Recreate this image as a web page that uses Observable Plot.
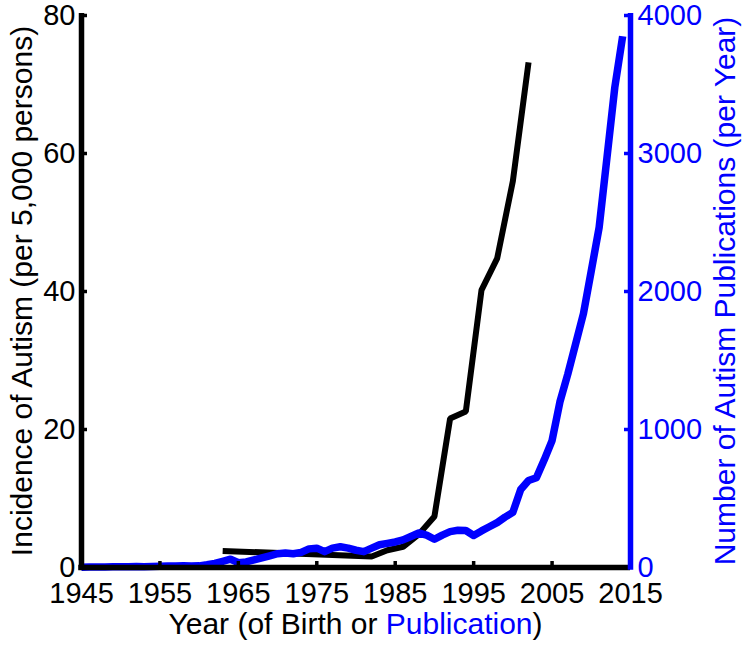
<!DOCTYPE html>
<html><head><meta charset="utf-8">
<script src="https://cdn.jsdelivr.net/npm/d3@7"></script>
<script src="https://cdn.jsdelivr.net/npm/@observablehq/plot@0.6"></script>
<style>html,body{margin:0;padding:0;background:#fff} svg{display:block}</style>
</head><body><div id="chart"></div>
<script>
// Incidence of autism (per 5,000 persons), by year of birth
const birthYears = [1963, 1982, 1984, 1986, 1988, 1990, 1992, 1994, 1996, 1998, 2000, 2002];
const incidence  = [2.4, 1.6, 2.5, 3.0, 4.8, 7.4, 21.6, 22.6, 40.2, 44.8, 56.0, 73.2];

// Number of autism publications per year
const pubYears = [1945,1946,1947,1948,1949,1950,1951,1952,1953,1954,1955,1956,1957,1958,1959,
  1960,1961,1962,1963,1964,1965,1966,1967,1968,1969,1970,1971,1972,1973,1974,1975,1976,1977,1978,1979,
  1980,1981,1982,1983,1984,1985,1986,1987,1988,1989,1990,1991,1992,1993,1994,1995,1996,1997,1998,1999,
  2000,2001,2002,2003,2004,2005,2006,2007,2008,2009,2010,2011,2012,2013,2014];
const publications = [2,3,3,4,5,5,6,7,6,8,9,10,10,12,10,
  12,20,30,45,60,35,40,55,70,85,100,105,100,110,135,140,115,140,150,140,
  125,115,140,165,175,185,200,225,250,235,205,235,260,270,268,232,265,295,325,365,
  400,565,630,650,780,920,1200,1400,1620,1840,2150,2464,2970,3480,3850];

const xTicks = [1945, 1955, 1965, 1975, 1985, 1995, 2005, 2015];
const leftTicks = [0, 20, 40, 60, 80];
const rightTicks = [0, 1000, 2000, 3000, 4000];

const xLabelParts = [["Year (of Birth or ", "black"], ["Publication", "#0000ff"], [")", "black"]];
const leftLabel = "Incidence of Autism (per 5,000 persons)";
const rightLabel = "Number of Autism Publications (per Year)";

const BLUE = "#0000ff";
const ratio = rightTicks[rightTicks.length - 1] / leftTicks[leftTicks.length - 1];
const incData = birthYears.map((year, i) => ({year, value: incidence[i]}));
const pubData = pubYears.map((year, i) => ({year, value: publications[i]}));

const W = 747, H = 650, mT = 15, mR = 117, mB = 83, mL = 81;
const pw = W - mL - mR, ph = H - mT - mB;
const TICKFS = 29, TITLEFS = 30;

const svg = Plot.plot({
  width: W, height: H,
  marginTop: mT, marginRight: mR, marginBottom: mB, marginLeft: mL,
  style: {fontFamily: "'Liberation Sans', Arial, sans-serif", fontSize: TICKFS + "px", background: "white", color: "black"},
  x: {domain: [xTicks[0], xTicks[xTicks.length - 1]]},
  y: {domain: [leftTicks[0], leftTicks[leftTicks.length - 1]]},
  marks: [
    Plot.line(incData, {x: "year", y: "value", stroke: "black", strokeWidth: 6, strokeLinecap: "butt", strokeLinejoin: "miter"}),
    Plot.line(pubData, {x: "year", y: d => d.value / ratio, stroke: BLUE, strokeWidth: 7.5, strokeLinecap: "butt", strokeLinejoin: "round"}),
    Plot.tickX(xTicks.slice(1, -1), {x: d => d, stroke: "black", strokeWidth: 3.5, insetTop: ph - 6}),
    Plot.tickY(leftTicks.slice(1), {y: d => d, stroke: "black", strokeWidth: 3.5, insetRight: pw - 6}),
    Plot.tickY(rightTicks.slice(1), {y: d => d / ratio, stroke: BLUE, strokeWidth: 3.5, insetLeft: pw - 6}),
    Plot.ruleY([leftTicks[0]], {stroke: "black", strokeWidth: 5.5, insetLeft: -2.75}),
    Plot.ruleX([xTicks[0]], {stroke: "black", strokeWidth: 5.5, insetTop: -2, insetBottom: -2.75}),
    Plot.ruleX([xTicks[xTicks.length - 1]], {stroke: BLUE, strokeWidth: 5.5, insetTop: -2, insetBottom: -2.75}),
    Plot.axisX({ticks: xTicks, tickSize: 0, tickPadding: 15, tickFormat: d => String(d), label: null, fontSize: TICKFS}),
    Plot.axisY({ticks: leftTicks, tickSize: 0, tickPadding: 6, label: null, fontSize: TICKFS}),
    Plot.axisY({anchor: "right", ticks: rightTicks.map(d => d / ratio), tickFormat: d => String(Math.round(d * ratio)),
      tickSize: 0, tickPadding: 7, label: null, fill: BLUE, fontSize: TICKFS})
  ]
});

const s = d3.select(svg);
const fam = "'Liberation Sans', Arial, sans-serif";
const xt = s.append("text")
  .attr("x", mL + pw / 2).attr("y", 634)
  .attr("text-anchor", "middle").attr("font-size", TITLEFS).attr("font-family", fam);
xLabelParts.forEach(([t, c]) => xt.append("tspan").attr("fill", c).text(t));

s.append("text")
  .attr("transform", `translate(32,${mT + ph / 2 + 0}) rotate(-90)`)
  .attr("text-anchor", "middle").attr("font-size", TITLEFS).attr("font-family", fam)
  .attr("fill", "black").text(leftLabel);

s.append("text")
  .attr("transform", `translate(735,${mT + ph / 2 + 0}) rotate(-90)`)
  .attr("text-anchor", "middle").attr("font-size", TITLEFS).attr("font-family", fam)
  .attr("fill", BLUE).text(rightLabel);

document.getElementById("chart").appendChild(svg);
</script>
</body></html>
